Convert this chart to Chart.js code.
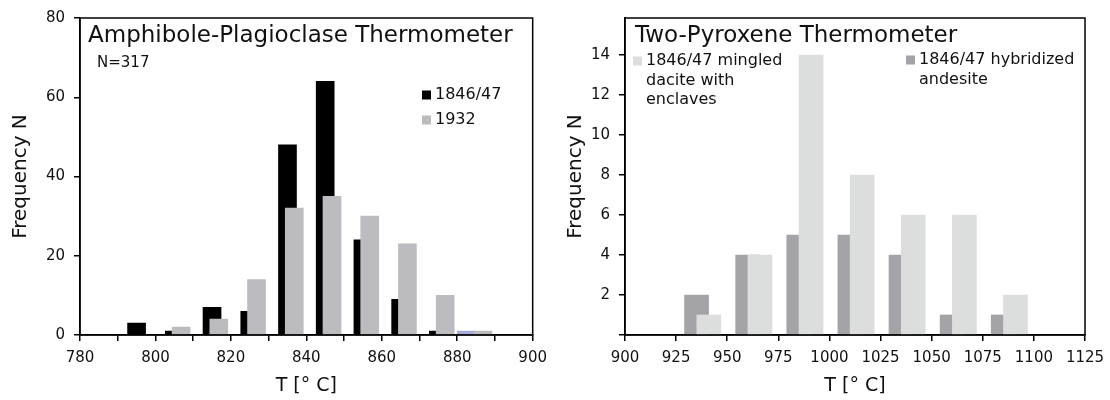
<!DOCTYPE html>
<html>
<head>
<meta charset="utf-8">
<script src="https://cdn.jsdelivr.net/npm/chart.js@4.4.1/dist/chart.umd.min.js"></script>
<style>
  html, body { margin: 0; padding: 0; background: #fff; }
  #wrap { position: relative; width: 1110px; height: 400px; overflow: hidden; }
  .panel { position: absolute; top: 0; height: 400px; }
</style>
</head>
<body>
<div id="wrap">
  <div class="panel" style="left:0;width:555px"><canvas id="amph" width="555" height="400"></canvas></div>
  <div class="panel" style="left:555px;width:580px"><canvas id="pyx" width="580" height="400"></canvas></div>
</div>
<script>
// Amphibole-plagioclase thermometer (left)
const amph1846T = [795, 805, 815, 825, 835, 845, 855, 865, 875];
const amph1846N = [3, 1, 7, 6, 48, 64, 24, 9, 1];
const amph1932T = [806.8, 816.8, 826.8, 836.8, 846.8, 856.8, 866.8, 876.8, 886.8];
const amph1932N = [2, 4, 14, 32, 35, 30, 23, 10, 1];
const amphOddT = [882.4];
const amphOddN = [1];
const amphLegend = [["1846/47"], ["1932"]];

// Two-pyroxene thermometer (right)
const andesiteT = [935, 960, 985, 1010, 1035, 1060, 1085];
const andesiteN = [2, 4, 5, 5, 4, 1, 1];
const daciteT = [941, 966, 991, 1016, 1041, 1066, 1091];
const daciteN = [1, 4, 14, 8, 6, 6, 2];
const daciteLegend = ["1846/47 mingled", "dacite with", "enclaves"];
const andesiteLegend = ["1846/47 hybridized", "andesite"];

const FONT = '"DejaVu Sans", Verdana, sans-serif';
const INK = "#111";
Chart.defaults.font.family = FONT;
Chart.defaults.color = INK;

const pts = (xs, ys) => xs.map((x, i) => ({ x, y: ys[i] }));

// box around the plot area
const frame = {
  id: "frame",
  afterDraw(chart) {
    const a = chart.chartArea, ctx = chart.ctx;
    ctx.save();
    ctx.strokeStyle = "#000";
    ctx.lineWidth = 1.5;
    ctx.strokeRect(a.left, a.top, a.right - a.left, a.bottom - a.top);
    ctx.restore();
  }
};

// in-plot title, note and legend
const panelText = {
  id: "panelText",
  afterDraw(chart, args, o) {
    const ctx = chart.ctx;
    ctx.save();
    ctx.textBaseline = "middle";
    ctx.textAlign = "left";
    ctx.fillStyle = INK;
    ctx.font = "23px " + FONT;
    ctx.fillText(o.title, o.titleX, o.titleY);
    if (o.note) {
      ctx.font = "15px " + FONT;
      ctx.fillText(o.note, o.noteX, o.noteY);
    }
    ctx.font = "16px " + FONT;
    o.legend.forEach(it => {
      const ds = chart.data.datasets[it.ds];
      ctx.fillStyle = ds.backgroundColor;
      ctx.fillRect(it.x, it.y - 4.5, 9, 9);
      ctx.fillStyle = INK;
      it.lines.forEach((ln, i) => ctx.fillText(ln, it.x + 13, it.y + i * 19.5));
    });
    ctx.restore();
  }
};

function xAxis(min, max, step, labelEvery) {
  return {
    type: "linear", min, max, offset: false,
    afterBuildTicks: s => {
      const t = [];
      for (let v = min; v <= max + 1e-6; v += step) t.push({ value: v });
      s.ticks = t;
    },
    afterFit: s => { s.height = 65; },
    ticks: {
      font: { size: 15 }, color: INK, padding: 8, maxRotation: 0, autoSkip: false,
      callback: v => ((v - min) % labelEvery === 0 ? v : "")
    },
    grid: { drawOnChartArea: false, offset: false, tickLength: 6, color: "#000", lineWidth: 1.5 },
    border: { display: true, color: "#000", width: 1.5 },
    title: { display: true, text: "T [° C]", font: { size: 19 }, color: INK, padding: { top: 0, bottom: 3 } }
  };
}

function yAxis(max, tickVals, width, showZero) {
  return {
    min: 0, max,
    afterBuildTicks: s => { s.ticks = tickVals.map(v => ({ value: v })); },
    afterFit: s => { s.width = width; },
    ticks: {
      font: { size: 15 }, color: INK, padding: 9,
      callback: v => (v === 0 && !showZero ? "" : v)
    },
    grid: { drawOnChartArea: false, tickLength: 6, color: "#000", lineWidth: 1.5 },
    border: { display: true, color: "#000", width: 1.5 },
    title: { display: true, text: "Frequency N", font: { size: 20 }, color: INK, padding: { top: 9, bottom: 0 } }
  };
}

new Chart(document.getElementById("amph"), {
  type: "bar",
  data: {
    datasets: [
      { label: "1846/47", data: pts(amph1846T, amph1846N), backgroundColor: "#000000", order: 2 },
      { label: "1932", data: pts(amph1932T, amph1932N), backgroundColor: "#bcbcc0", order: 1 },
      { label: "odd", data: pts(amphOddT, amphOddN), backgroundColor: "#a6abd9", order: 3 }
    ]
  },
  options: {
    responsive: false,
    animation: false,
    layout: { padding: { left: 0, top: 17, right: 22, bottom: 0 } },
    datasets: { bar: { barThickness: 18, grouped: false, borderWidth: 0 } },
    scales: {
      x: xAxis(780, 900, 10, 20),
      y: yAxis(80, [0, 20, 40, 60, 80], 80, true)
    },
    plugins: {
      legend: { display: false },
      tooltip: { enabled: false },
      panelText: {
        title: "Amphibole-Plagioclase Thermometer", titleX: 88, titleY: 36,
        note: "N=317", noteX: 97, noteY: 63,
        legend: [
          { ds: 0, x: 422, y: 95, lines: amphLegend[0] },
          { ds: 1, x: 422, y: 120, lines: amphLegend[1] }
        ]
      }
    }
  },
  plugins: [frame, panelText]
});

new Chart(document.getElementById("pyx"), {
  type: "bar",
  data: {
    datasets: [
      { label: andesiteLegend.join(" "), data: pts(andesiteT, andesiteN), backgroundColor: "#a3a3a8", order: 2 },
      { label: daciteLegend.join(" "), data: pts(daciteT, daciteN), backgroundColor: "#dcdddd", order: 1 }
    ]
  },
  options: {
    responsive: false,
    animation: false,
    layout: { padding: { left: 0, top: 17, right: 50, bottom: 0 } },
    datasets: { bar: { barThickness: 24, grouped: false, borderWidth: 0 } },
    scales: {
      x: xAxis(900, 1125, 25, 25),
      y: yAxis(15.85, [0, 2, 4, 6, 8, 10, 12, 14], 70, false)
    },
    plugins: {
      legend: { display: false },
      tooltip: { enabled: false },
      panelText: {
        title: "Two-Pyroxene Thermometer", titleX: 80, titleY: 36,
        legend: [
          { ds: 1, x: 78, y: 61, lines: daciteLegend },
          { ds: 0, x: 351, y: 60, lines: andesiteLegend }
        ]
      }
    }
  },
  plugins: [frame, panelText]
});
</script>
</body>
</html>
